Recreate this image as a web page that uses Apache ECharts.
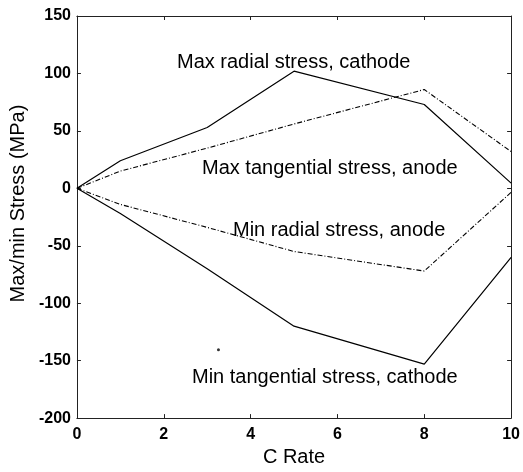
<!DOCTYPE html>
<html>
<head>
<meta charset="utf-8">
<script src="https://cdn.jsdelivr.net/npm/echarts@6/dist/echarts.min.js"></script>
<style>
html,body{margin:0;padding:0;background:#fff;}
#chart{width:523px;height:472px;}
</style>
</head>
<body>
<div id="chart"></div>
<script>
var cRate = [0, 1, 3, 5, 8, 10];
var maxRadialCathode = [0, 24, 53, 102, 73, 4.5];
var maxTangentialAnode = [0, 15, 35, 56, 86, 32];
var minRadialAnode = [0, -14, -34, -55, -72, -3.5];
var minTangentialCathode = [0, -22, -70, -120, -153, -60];
var speck = [[3.26, -140.5]];
var labels = ['Max radial stress, cathode', 'Max tangential stress, anode', 'Min radial stress, anode', 'Min tangential stress, cathode'];

function pairs(xs, ys) { return xs.map(function (x, i) { return [x, ys[i]]; }); }

var chart = echarts.init(document.getElementById('chart'), null, { renderer: 'canvas' });
var font = 'Liberation Sans, Arial, sans-serif';
var axisLine = { show: true, onZero: false, lineStyle: { color: '#222', width: 1 } };
var tick = { show: true, inside: true, length: 4, lineStyle: { color: '#222' } };
var tickLbl = { color: '#000', fontFamily: font, fontSize: 16, fontWeight: 'bold' };
var solid = { color: '#000', width: 1.2, type: 'solid' };
var dashdot = { color: '#000', width: 1.1, type: [5, 2, 1, 2] };

chart.setOption({
  animation: false,
  backgroundColor: '#fff',
  grid: { left: 74, right: 10, top: 16, bottom: 46, containLabel: false },
  xAxis: [
    { type: 'value', min: 0, max: 10, interval: 2, position: 'bottom',
      axisLine: axisLine, axisTick: tick, splitLine: { show: false },
      axisLabel: Object.assign({ margin: 8 }, tickLbl),
      name: 'C Rate', nameLocation: 'middle', nameGap: 27,
      nameTextStyle: { color: '#000', fontFamily: font, fontSize: 20 } },
    { type: 'value', min: 0, max: 10, interval: 2, position: 'top',
      axisLine: axisLine, axisTick: tick, splitLine: { show: false },
      axisLabel: { show: false } }
  ],
  yAxis: [
    { type: 'value', min: -200, max: 150, interval: 50, position: 'left',
      axisLine: axisLine, axisTick: tick, splitLine: { show: false },
      axisLabel: Object.assign({ margin: 6 }, tickLbl),
      name: 'Max/min Stress (MPa)', nameLocation: 'middle', nameGap: 41,
      nameTextStyle: { color: '#000', fontFamily: font, fontSize: 20, padding: [0, 0, 0, 27] } },
    { type: 'value', min: -200, max: 150, interval: 50, position: 'right',
      axisLine: axisLine, axisTick: tick, splitLine: { show: false },
      axisLabel: { show: false } }
  ],
  series: [
    { type: 'line', name: labels[0], data: pairs(cRate, maxRadialCathode), symbol: 'none', lineStyle: solid },
    { type: 'line', name: labels[1], data: pairs(cRate, maxTangentialAnode), symbol: 'none', lineStyle: dashdot },
    { type: 'line', name: labels[2], data: pairs(cRate, minRadialAnode), symbol: 'none', lineStyle: dashdot },
    { type: 'line', name: labels[3], data: pairs(cRate, minTangentialCathode), symbol: 'none', lineStyle: solid },
    { type: 'scatter', data: speck, symbolSize: 3, itemStyle: { color: '#000' } }
  ],
  graphic: [
    { type: 'text', left: 177, top: 52, style: { text: labels[0], fill: '#000', font: '20px ' + font } },
    { type: 'text', left: 202, top: 158, style: { text: labels[1], fill: '#000', font: '20px ' + font } },
    { type: 'text', left: 233, top: 220, style: { text: labels[2], fill: '#000', font: '20px ' + font } },
    { type: 'text', left: 192, top: 367, style: { text: labels[3], fill: '#000', font: '20px ' + font } }
  ]
});
</script>
</body>
</html>
